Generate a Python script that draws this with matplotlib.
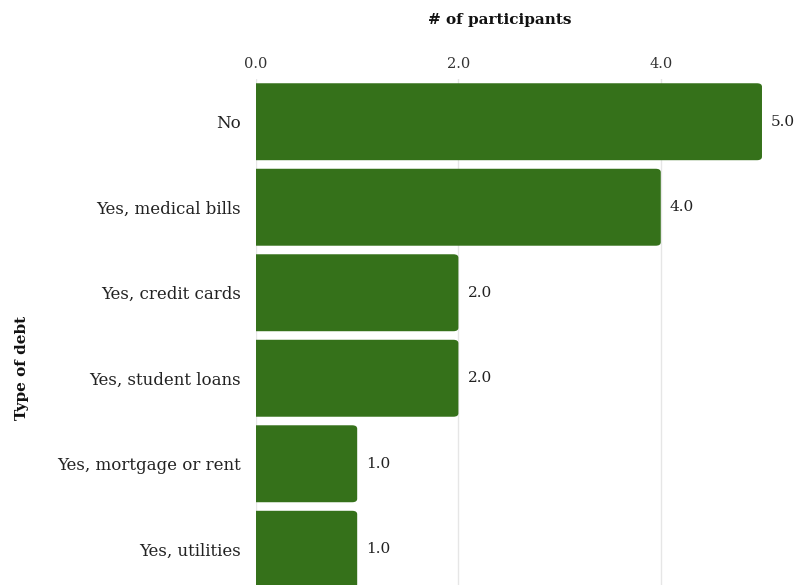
import matplotlib
matplotlib.use("Agg")
import matplotlib.pyplot as plt
from matplotlib.patches import FancyBboxPatch

categories = ["No", "Yes, medical bills", "Yes, credit cards", "Yes, student loans",
              "Yes, mortgage or rent", "Yes, utilities"]
counts = [5.0, 4.0, 2.0, 2.0, 1.0, 1.0]
xticks = [0.0, 2.0, 4.0]

plt.rcParams["font.family"] = ["DejaVu Serif"]
green = "#35711a"

fig = plt.figure(figsize=(7.99, 5.85), dpi=100)
ax = fig.add_axes([0.3204, -0.0120, 0.67, 0.8770])

ypos = list(range(len(categories)))
bars = ax.barh(ypos, counts, height=0.9, color=green)
ax.set_ylim(len(categories) - 0.5, -0.5)
ax.set_xlim(0, 5.29)

# rounded ends on the value side; the left end starts past the axis and is clipped square
for b in bars:
    x, y = b.get_x(), b.get_y()
    w, h = b.get_width(), b.get_height()
    b.set_visible(False)
    patch = FancyBboxPatch((x - 0.2, y), w + 0.2, h,
                           boxstyle="round,pad=0,rounding_size=0.05",
                           mutation_aspect=0.81,
                           facecolor=green, edgecolor="none", zorder=3,
                           clip_on=True)
    ax.add_patch(patch)

for yv, v in zip(ypos, counts):
    ax.text(v + 0.09, yv, f"{v:.1f}", va="center", ha="left", fontsize=11,
            color="#222222")

ax.xaxis.tick_top()
ax.set_xticks(xticks)
ax.set_xticklabels([f"{t:.1f}" for t in xticks], fontsize=10.5, color="#333333")
ax.tick_params(axis="x", length=0, pad=6)
ax.set_yticks(ypos)
ax.set_yticklabels(categories, fontsize=12, color="#222222")
ax.tick_params(axis="y", length=0, pad=11)
ax.grid(axis="x", color="#e6e6e6", linewidth=1, zorder=0)
ax.set_axisbelow(True)
for s in ax.spines.values():
    s.set_visible(False)

fig.text(0.625, 0.965, "# of participants", ha="center", va="center",
         fontsize=11, fontweight="bold", color="#111111")
fig.text(0.028, 0.371, "Type of debt", ha="center", va="center", rotation=90,
         fontsize=11, fontweight="bold", color="#111111")

fig.savefig("out.png", dpi=100)
